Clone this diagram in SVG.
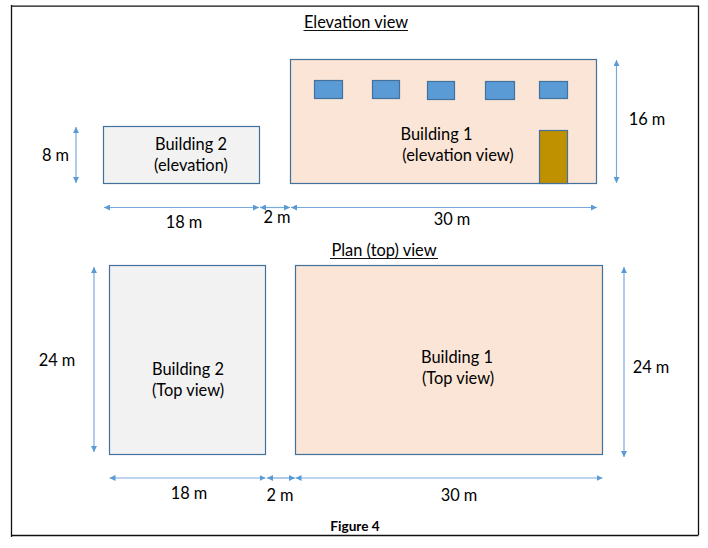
<svg xmlns="http://www.w3.org/2000/svg" width="708" height="548" viewBox="0 0 708 548">
<style>
text{font-family:"Lato","Liberation Sans",sans-serif;font-size:16.4px;fill:#000;text-anchor:middle}
.bldg{stroke:#41719c;stroke-width:1.2}
.g{fill:#f2f2f2}.p{fill:#fbe5d6}
.w{fill:#5b9bd5;stroke:#41719c;stroke-width:1.2}
.d{fill:#bf9000;stroke:#41719c;stroke-width:1.2}
.c{stroke:#7aa9dc;stroke-width:1.2;fill:none;marker-start:url(#a);marker-end:url(#a)}
.u{stroke:#111;stroke-width:1;fill:none}
</style>
<defs><marker id="a" viewBox="0 0 6 6" refX="6" refY="3" markerWidth="6" markerHeight="6" markerUnits="userSpaceOnUse" orient="auto-start-reverse"><path d="M0 0L6 3L0 6Z" fill="#5b9bd5"/></marker></defs>
<rect width="708" height="548" fill="#fff"/>
<path d="M11.5 5V537M11 6.2H698.5V535M11 535.5H698.5" fill="none" stroke="#111" stroke-width="1.3"/>
<g id="connectors">
<path class="c" d="M76 127V183"/>
<path class="c" d="M104 207.5H259"/>
<path class="c" d="M260 207.5H290"/>
<path class="c" d="M291 207.5H597"/>
<path class="c" d="M616.5 60V183"/>
<path class="c" d="M94 267V452"/>
<path class="c" d="M624 267V457"/>
<path class="c" d="M109.5 478H265.5"/>
<path class="c" d="M267 478H295"/>
<path class="c" d="M295.5 478H602.5"/>
</g>
<g id="title-elevation"><text x="356" y="28">Elevation view</text><path class="u" d="M303.5 30.5H408"/></g>
<g id="building2-elevation"><rect class="bldg g" x="103.5" y="126.5" width="156" height="57"/><text x="191" y="150">Building 2</text><text x="191" y="171">(elevation)</text></g>
<g id="building1-elevation"><rect class="bldg p" x="290.5" y="59.5" width="306" height="124"/><text x="436.5" y="140">Building 1</text><text x="458" y="161">(elevation view)</text></g>
<g id="window1"><rect class="w" x="314.5" y="80.5" width="28" height="18"/></g>
<g id="window2"><rect class="w" x="372.5" y="80.5" width="27" height="18"/></g>
<g id="window3"><rect class="w" x="427.5" y="81.5" width="27" height="18"/></g>
<g id="window4"><rect class="w" x="485.5" y="81.5" width="29" height="18"/></g>
<g id="window5"><rect class="w" x="539.5" y="81.5" width="28" height="17"/></g>
<g id="door"><rect class="d" x="539.5" y="130.5" width="28" height="53"/></g>
<g id="dims">
<text x="55.5" y="161">8 m</text>
<text x="184" y="228">18 m</text>
<text x="277" y="223">2 m</text>
<text x="452" y="225">30 m</text>
<text x="647" y="125">16 m</text>
<text x="57" y="366">24 m</text>
<text x="651" y="373">24 m</text>
<text x="189" y="499">18 m</text>
<text x="280" y="501">2 m</text>
<text x="459" y="501">30 m</text>
</g>
<g id="title-plan"><text x="384" y="256">Plan (top) view</text><path class="u" d="M330 258.5H438"/></g>
<g id="building2-top"><rect class="bldg g" x="109.5" y="265.5" width="156" height="189"/><text x="188" y="375">Building 2</text><text x="188" y="396">(Top view)</text></g>
<g id="building1-top"><rect class="bldg p" x="295.5" y="265.5" width="307" height="189"/><text x="457" y="363">Building 1</text><text x="458" y="384">(Top view)</text></g>
<g id="caption"><text x="355" y="531" style="font-size:13.6px;font-weight:700">Figure 4</text></g>
</svg>
